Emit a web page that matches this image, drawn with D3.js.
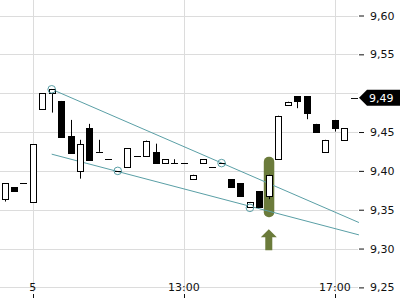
<!DOCTYPE html>
<html><head><meta charset="utf-8">
<script src="https://cdn.jsdelivr.net/npm/d3@7"></script>
<style>html,body{margin:0;padding:0;background:#fff;}svg{display:block;}</style>
</head><body>
<script>
// 15-minute candles (index 0..36)
const opens  = [9.364,9.379,9.384,9.360,9.479,9.500,9.490,9.445,9.400,9.455,9.4245,9.415,9.400,9.405,9.419,9.419,9.424,9.410,9.410,9.410,9.389,9.410,9.405,9.410,9.389,9.384,9.354,9.374,9.368,9.415,9.485,9.496,9.496,9.4605,9.424,9.4656,9.440];
const highs  = [9.384,9.379,9.384,9.434,9.500,9.505,9.490,9.4656,9.440,9.4605,9.440,9.415,9.400,9.429,9.419,9.439,9.435,9.415,9.415,9.410,9.395,9.415,9.405,9.410,9.389,9.384,9.360,9.374,9.395,9.471,9.489,9.496,9.496,9.4605,9.440,9.4656,9.455];
const lows   = [9.3605,9.374,9.384,9.360,9.479,9.475,9.444,9.4236,9.390,9.414,9.4245,9.415,9.400,9.405,9.419,9.419,9.410,9.410,9.410,9.410,9.389,9.410,9.405,9.410,9.379,9.368,9.354,9.354,9.3636,9.415,9.485,9.4807,9.4665,9.4498,9.424,9.4506,9.440];
const closes = [9.384,9.374,9.384,9.434,9.500,9.505,9.444,9.4236,9.434,9.414,9.4245,9.415,9.400,9.429,9.419,9.439,9.410,9.415,9.410,9.410,9.395,9.415,9.405,9.410,9.379,9.368,9.360,9.354,9.395,9.471,9.489,9.490,9.474,9.4498,9.440,9.455,9.455];

const xTickIndex  = [3, 19, 35];
const xTickLabels = ["5", "13:00", "17:00"];
const yTicks = [9.25, 9.30, 9.35, 9.40, 9.45, 9.55, 9.60];
const yGrid  = [9.25, 9.30, 9.35, 9.40, 9.45, 9.50, 9.55, 9.60];

// trend lines [index, price]
const upperTrend = [[5, 9.505], [37.55, 9.3335]];
const lowerTrend = [[5, 9.4215], [37.55, 9.3176]];
// touch points [index, price]
const touches = [[5, 9.505], [12, 9.400], [23, 9.410], [26, 9.3524]];
const signalIndex = 28;
const lastPrice = 9.494;
const lastLabel = "9,49";

const W = 400, H = 300;
const plotRight = 358;
const x = d3.scaleLinear().domain([0, 36]).range([4.5, 344.3]);
const y = d3.scaleLinear().domain([9.25, 9.60]).range([287.4, 15.5]);

const svg = d3.select("body").append("svg").attr("width", W).attr("height", H)
  .style("font-family", "DejaVu Sans, sans-serif");

const gridColor = "#dcdcdc";
const px = v => Math.round(v) + 0.5;

// grid
svg.append("g").selectAll("line.h").data(yGrid).join("line")
  .attr("x1", 0).attr("x2", plotRight)
  .attr("y1", d => px(y(d))).attr("y2", d => px(y(d)))
  .attr("stroke", gridColor).attr("stroke-width", 1);
svg.append("g").selectAll("line.v").data(xTickIndex).join("line")
  .attr("x1", d => px(x(d))).attr("x2", d => px(x(d)))
  .attr("y1", 0).attr("y2", 292)
  .attr("stroke", gridColor).attr("stroke-width", 1);

// x axis labels + small ticks
const xa = svg.append("g").attr("font-size", 11).attr("fill", "#111");
xTickIndex.forEach((d, k) => {
  xa.append("text").attr("x", x(d)).attr("y", 291).attr("text-anchor", "middle").text(xTickLabels[k]);
  xa.append("line").attr("x1", px(x(d))).attr("x2", px(x(d))).attr("y1", 294).attr("y2", 298)
    .attr("stroke", "#111");
});

// y axis
const yAxis = d3.axisRight(y).tickValues(yTicks).tickSize(5).tickPadding(6)
  .tickFormat(d => d3.format(".2f")(d).replace(".", ","));
const ya = svg.append("g").attr("transform", `translate(${plotRight + 1},0)`).call(yAxis);
ya.select(".domain").remove();
ya.selectAll("text").attr("font-size", 11).attr("fill", "#111").attr("font-family", "DejaVu Sans, sans-serif");
ya.selectAll("line").attr("stroke", "#111");

// highlight behind signal candle
const hiTop = y(highs[signalIndex]) - 18, hiBot = y(lows[signalIndex]) + 18;
const olive = "#6b7b3b";
svg.append("rect").attr("x", x(signalIndex) - 5).attr("width", 10.5)
  .attr("y", hiTop).attr("height", hiBot - hiTop).attr("rx", 5).attr("fill", olive);

// trend lines
const teal = "#5a9fa6";
const line = d3.line().x(d => x(d[0])).y(d => y(d[1]));
[upperTrend, lowerTrend].forEach(t => svg.append("path").attr("d", line(t))
  .attr("fill", "none").attr("stroke", teal).attr("stroke-width", 1));

// candles
const idx = d3.range(opens.length);
const cg = svg.append("g");
idx.forEach(i => {
  const cx = px(x(i));
  const o = opens[i], c = closes[i], h = highs[i], l = lows[i];
  const top = y(Math.max(o, c)), bot = y(Math.min(o, c));
  cg.append("line").attr("x1", cx).attr("x2", cx).attr("y1", y(h)).attr("y2", y(l))
    .attr("stroke", "#000").attr("stroke-width", 1);
  if (bot - top < 1) {
    cg.append("line").attr("x1", cx - 3.5).attr("x2", cx + 3.5)
      .attr("y1", px(top)).attr("y2", px(top)).attr("stroke", "#000");
  } else {
    cg.append("rect").attr("x", cx - 3).attr("width", 6)
      .attr("y", Math.round(top) + 0.5).attr("height", Math.max(1, Math.round(bot) - Math.round(top)))
      .attr("fill", c >= o ? "#fff" : "#000").attr("stroke", "#000").attr("stroke-width", 1);
  }
});

// touch circles
svg.append("g").selectAll("circle").data(touches).join("circle")
  .attr("cx", d => x(d[0])).attr("cy", d => y(d[1])).attr("r", 3.8)
  .attr("fill", "none").attr("stroke", teal).attr("stroke-width", 1);

// signal arrow (up)
const ax = x(signalIndex), at = hiBot + 12;
svg.append("path")
  .attr("d", `M${ax},${at} L${ax + 8},${at + 8} L${ax + 3.5},${at + 8} L${ax + 3.5},${at + 21} L${ax - 3.5},${at + 21} L${ax - 3.5},${at + 8} L${ax - 8},${at + 8} Z`)
  .attr("fill", olive);

// last price marker
const yp = y(lastPrice);
svg.append("line").attr("x1", 351).attr("x2", 358).attr("y1", px(yp)).attr("y2", px(yp)).attr("stroke", "#111");
svg.append("path").attr("d", `M359,${yp} L367,${yp - 8} L400,${yp - 8} L400,${yp + 8} L367,${yp + 8} Z`).attr("fill", "#000");
svg.append("text").attr("x", 369).attr("y", yp + 4).attr("font-size", 11).attr("fill", "#fff").text(lastLabel);
</script>
</body></html>
